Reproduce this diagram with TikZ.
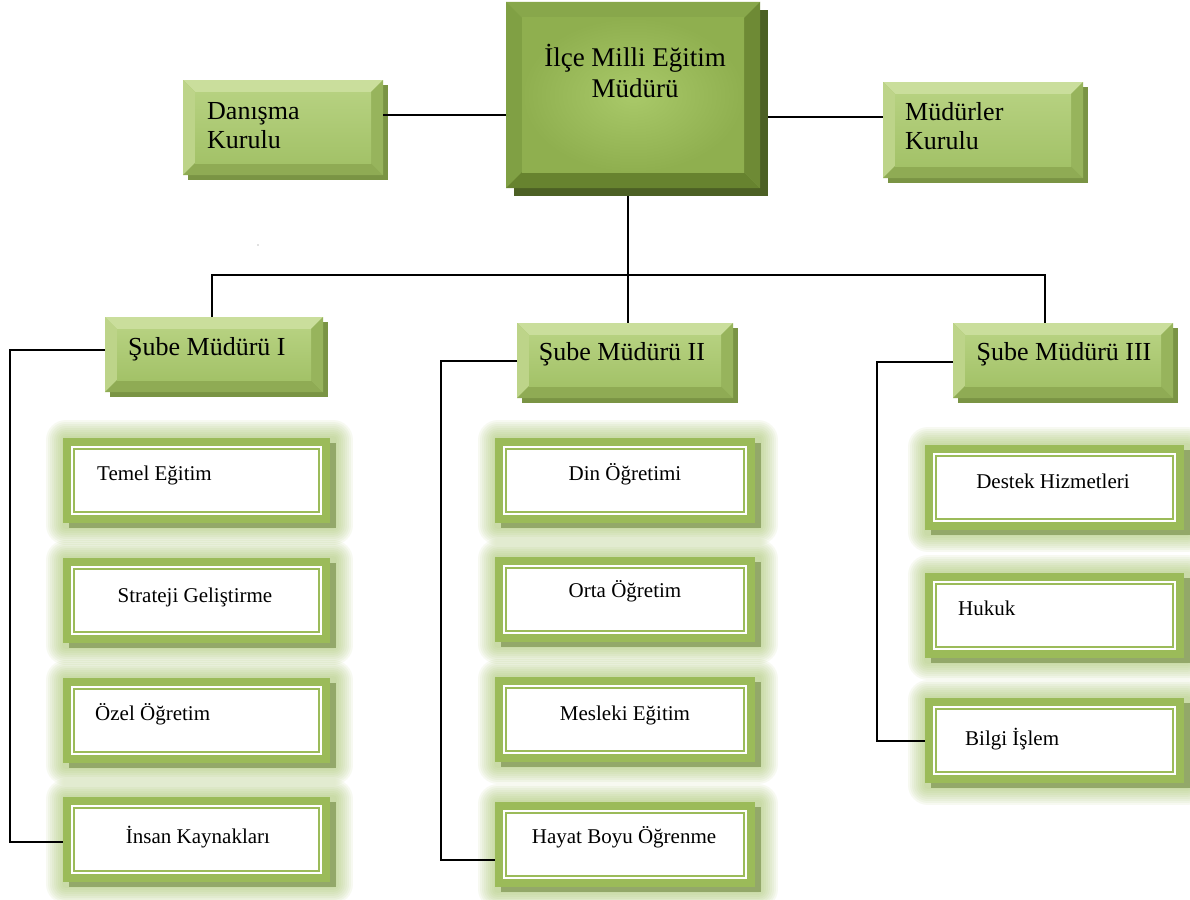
\documentclass[tikz,border=0pt]{standalone}
\usepackage{fontspec}
\setmainfont{Liberation Serif}
\usetikzlibrary{shadows,calc}
\definecolor{frameG}{HTML}{9BBB59}
\definecolor{shadW}{HTML}{93A869}
\definecolor{glowG}{HTML}{A8C66C}
\definecolor{lTop}{HTML}{CADE9C}
\definecolor{lLeft}{HTML}{BDD489}
\definecolor{lBot}{HTML}{8FAB54}
\definecolor{lRight}{HTML}{97B45C}
\definecolor{lFaceT}{HTML}{B6D180}
\definecolor{lFaceB}{HTML}{A3C268}
\definecolor{lShad}{HTML}{7A9444}
\definecolor{dTop}{HTML}{88A74B}
\definecolor{dLeft}{HTML}{80A044}
\definecolor{dBot}{HTML}{67832F}
\definecolor{dRight}{HTML}{6E8A35}
\definecolor{dFaceI}{HTML}{A9C969}
\definecolor{dFaceO}{HTML}{8FAF4F}
\definecolor{dShad}{HTML}{4C6024}
\newcommand\bevelpic[6]{%
  \coordinate (bsw) at (path picture bounding box.south west);
  \coordinate (bne) at (path picture bounding box.north east);
  \coordinate (bnw) at (path picture bounding box.north west);
  \coordinate (bse) at (path picture bounding box.south east);
  \coordinate (isw) at ([shift={(#1,#1)}]bsw);
  \coordinate (ine) at ([shift={(-#1,-#1)}]bne);
  \coordinate (inw) at ([shift={(#1,-#1)}]bnw);
  \coordinate (ise) at ([shift={(-#1,#1)}]bse);
  \fill[#2] (bnw) -- (bne) -- (ine) -- (inw) -- cycle;
  \fill[#3] (bnw) -- (inw) -- (isw) -- (bsw) -- cycle;
  \fill[#4] (bsw) -- (isw) -- (ise) -- (bse) -- cycle;
  \fill[#5] (bse) -- (ise) -- (ine) -- (bne) -- cycle;
  \shade[#6] (isw) rectangle (ine);
}
\tikzset{
  glow/.style={preaction={draw=glowG, fill=none, line width=#1, draw opacity=0.09, line join=round, transform canvas={shift={(3pt,-2pt)}}}},
  wbox/.style={rectangle, inner sep=0pt, outer sep=0pt, fill=frameG, draw=none,
    glow=40pt, glow=36pt, glow=32pt, glow=28pt, glow=24pt, glow=20pt, glow=16pt, glow=12pt, glow=8pt,
    general shadow={shadow xshift=6pt, shadow yshift=-5pt, fill=shadW, draw=none},
    path picture={
      \fill[white] ([shift={(8pt,8pt)}]path picture bounding box.south west) rectangle ([shift={(-8pt,-8pt)}]path picture bounding box.north east);
      \draw[frameG, line width=1.6pt] ([shift={(11pt,11pt)}]path picture bounding box.south west) rectangle ([shift={(-11pt,-11pt)}]path picture bounding box.north east);
    }},
  lbox/.style={rectangle, inner sep=0pt, outer sep=0pt, fill=lFaceB, draw=none,
    general shadow={shadow xshift=5pt, shadow yshift=-5pt, fill=lShad, draw=none},
    path picture={\bevelpic{12pt}{lTop}{lLeft}{lBot}{lRight}{top color=lFaceT, bottom color=lFaceB}}},
  dbox/.style={rectangle, inner sep=0pt, outer sep=0pt, fill=dFaceO, draw=none,
    general shadow={shadow xshift=8pt, shadow yshift=-8pt, fill=dShad, draw=none},
    path picture={\bevelpic{16pt}{dTop}{dLeft}{dBot}{dRight}{inner color=dFaceI, outer color=dFaceO}}},
  big/.style={inner sep=0pt, font=\fontsize{27}{31}\selectfont},
  mid/.style={inner sep=0pt, font=\fontsize{26}{29}\selectfont},
  small/.style={inner sep=0pt, font=\fontsize{21}{24}\selectfont},
  link/.style={draw=black, line width=1.4pt},
}
\begin{document}
\begin{tikzpicture}[x=1pt,y=-1pt]
\useasboundingbox (0,0) rectangle (1190,899);
\fill[white] (0,0) rectangle (1190,899);

% white boxes
\node[wbox, minimum width=267pt, minimum height=85pt] (temel) at (196.5,480.5) {};
\node[wbox, minimum width=267pt, minimum height=85pt] (strat) at (196.5,600.5) {};
\node[wbox, minimum width=267pt, minimum height=85pt] (ozel) at (196.5,720.5) {};
\node[wbox, minimum width=267pt, minimum height=85pt] (insan) at (196.5,839.5) {};
\node[wbox, minimum width=260pt, minimum height=85pt] (din) at (625,480.5) {};
\node[wbox, minimum width=260pt, minimum height=85pt] (orta) at (625,599.5) {};
\node[wbox, minimum width=260pt, minimum height=85pt] (mesl) at (625,719.5) {};
\node[wbox, minimum width=260pt, minimum height=85pt] (hayat) at (625,844.5) {};
\node[wbox, minimum width=259pt, minimum height=85pt] (destek) at (1054.5,487.5) {};
\node[wbox, minimum width=259pt, minimum height=85pt] (hukuk) at (1054.5,615.5) {};
\node[wbox, minimum width=259pt, minimum height=85pt] (bilgi) at (1054.5,740.5) {};

% green boxes
\node[dbox, minimum width=254pt, minimum height=186pt] (top) at (633,95) {};
\node[lbox, minimum width=200pt, minimum height=95pt] (dan) at (283,127.5) {};
\node[lbox, minimum width=200pt, minimum height=96pt] (mud) at (983,130) {};
\node[lbox, minimum width=218pt, minimum height=75pt] (s1) at (214,354.5) {};
\node[lbox, minimum width=216pt, minimum height=75pt] (s2) at (625,360.5) {};
\node[lbox, minimum width=220pt, minimum height=75pt] (s3) at (1063,360.5) {};

% texts (base anchor = baseline of the last line)
\node[big, align=center, anchor=base] (ttop) at (635,97) {İlçe Milli Eğitim\\Müdürü};
\node[mid, align=left, anchor=base west] (tdan) at (207,148) {Danışma\\Kurulu};
\node[mid, align=left, anchor=base west] (tmud) at (905,149) {Müdürler\\Kurulu};
\node[mid, anchor=base west] (ts1) at (128,355) {Şube Müdürü I};
\node[mid, anchor=base] (ts2) at (622,360) {Şube Müdürü II};
\node[mid, anchor=base] (ts3) at (1064,360) {Şube Müdürü III};
\node[small, anchor=base west] (ttemel) at (97,480) {Temel Eğitim};
\node[small, anchor=base] (tstrat) at (195,602) {Strateji Geliştirme};
\node[small, anchor=base west] (tozel) at (95,720) {Özel Öğretim};
\node[small, anchor=base] (tinsan) at (198,843) {İnsan Kaynakları};
\node[small, anchor=base] (tdin) at (625,480) {Din Öğretimi};
\node[small, anchor=base] (torta) at (625,597) {Orta Öğretim};
\node[small, anchor=base] (tmesl) at (625,720) {Mesleki Eğitim};
\node[small, anchor=base] (thayat) at (624,843) {Hayat Boyu Öğrenme};
\node[small, anchor=base] (tdestek) at (1053,488) {Destek Hizmetleri};
\node[small, anchor=base west] (thukuk) at (958,615) {Hukuk};
\node[small, anchor=base west] (tbilgi) at (965,745) {Bilgi İşlem};

% connectors
\coordinate (jtop) at (628,275);
\coordinate (jl) at (212,275);
\coordinate (jr) at (1045,275);
\draw[link] (dan.east |- 0,115) -- (top.west |- 0,115);
\draw[link] ([xshift=8pt]top.east |- 0,117) -- (mud.west |- 0,117);
\draw[link] (top.south -| jtop) ++(0,8) -- (jtop);
\draw[link] (jl |- s1.north) -- (jl) -- (jr) -- (jr |- s3.north);
\draw[link] (jtop) -- (jtop |- s2.north);
\draw[link] (s1.west |- 0,350) -| (10,842) -- (insan.west |- 0,842);
\draw[link] (s2.west |- 0,361) -| (441,860) -- (hayat.west |- 0,860);
\draw[link] (s3.west |- 0,362) -| (877,741) -- (bilgi.west |- 0,741);
\fill[gray] (258,245) circle (0.6pt);
\end{tikzpicture}
\end{document}
